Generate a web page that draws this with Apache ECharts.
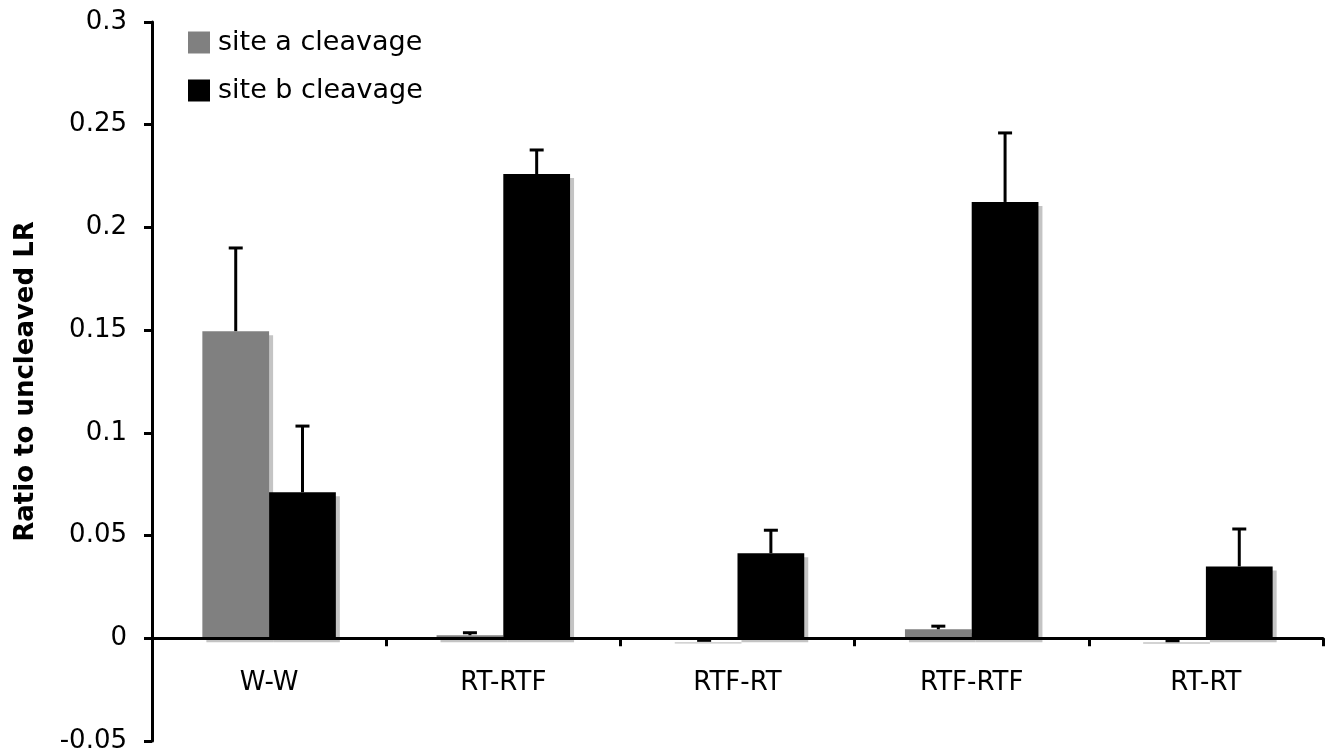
<!DOCTYPE html>
<html>
<head>
<meta charset="utf-8">
<script src="https://cdn.jsdelivr.net/npm/echarts@6/dist/echarts.min.js"></script>
<style>
html,body{margin:0;padding:0;background:#fff;}
#chart{width:1331px;height:755px;}
</style>
</head>
<body>
<div id="chart"></div>
<script>
const categories = ['W-W', 'RT-RTF', 'RTF-RT', 'RTF-RTF', 'RT-RT'];
const seriesNames = ['site a cleavage', 'site b cleavage'];
const siteA = [0.1495, 0.0015, -0.0006, 0.0044, -0.0007];
const siteAErr = [0.0405, 0.0012, 0.0004, 0.0015, 0.0005];
const siteB = [0.0711, 0.226, 0.0414, 0.2124, 0.035];
const siteBErr = [0.0322, 0.0117, 0.0112, 0.0336, 0.0182];
const yTicks = { min: -0.05, max: 0.3, interval: 0.05 };

const FONT = 'DejaVu Sans';
const chart = echarts.init(document.getElementById('chart'));

function errSeries(vals, errs, sign) {
  return {
    type: 'custom',
    z: 5,
    silent: true,
    data: vals.map((v, i) => [i, v, errs[i]]),
    renderItem: function (params, api) {
      const i = api.value(0), v = api.value(1), e = api.value(2);
      const end = v >= 0 ? v + e : v - e;
      const band = api.size([1, 0])[0];
      const off = sign * band * 0.57 / 4;
      const p0 = api.coord([i, v]);
      const p1 = api.coord([i, end]);
      const x = p0[0] + off;
      const style = { stroke: '#000', lineWidth: 3 };
      return {
        type: 'group',
        children: [
          { type: 'line', shape: { x1: x, y1: p0[1], x2: x, y2: p1[1] }, style: style },
          { type: 'line', shape: { x1: x - 7, y1: p1[1], x2: x + 7, y2: p1[1] }, style: style }
        ]
      };
    }
  };
}

const shadow = { shadowColor: '#c4c4c4', shadowBlur: 0, shadowOffsetX: 4, shadowOffsetY: 4 };

chart.setOption({
  animation: false,
  backgroundColor: '#fff',
  textStyle: { fontFamily: FONT },
  legend: {
    orient: 'vertical',
    left: 188,
    top: 29,
    padding: 0,
    itemWidth: 22,
    itemHeight: 22,
    itemGap: 21,
    icon: 'rect',
    data: seriesNames,
    textStyle: { fontFamily: FONT, fontSize: 27, lineHeight: 22, color: '#000', padding: [0, 0, 0, 3] }
  },
  grid: { left: 152, right: 8, top: 22, bottom: 14, containLabel: false, outerBoundsMode: 'none' },
  xAxis: {
    type: 'category',
    data: categories,
    z: 10,
    axisLine: { onZero: true, lineStyle: { color: '#000', width: 3 } },
    axisTick: { show: true, length: 8, inside: false, interval: 0, lineStyle: { color: '#000', width: 3 } },
    axisLabel: { show: true, interval: 0, hideOverlap: false, color: '#000', fontFamily: FONT, fontSize: 26, margin: -71 }
  },
  yAxis: {
    type: 'value',
    min: yTicks.min,
    max: yTicks.max,
    interval: yTicks.interval,
    name: 'Ratio to uncleaved LR',
    nameLocation: 'middle',
    nameGap: 113,
    nameRotate: 90,
    nameTextStyle: { color: '#000', fontFamily: FONT, fontSize: 26, fontWeight: 'bold' },
    splitLine: { show: false },
    axisLine: { show: true, onZero: false, lineStyle: { color: '#000', width: 3 } },
    axisTick: { show: true, length: 8, lineStyle: { color: '#000', width: 3 } },
    axisLabel: { color: '#000', fontFamily: FONT, fontSize: 26, margin: 25 }
  },
  series: [
    {
      name: seriesNames[0], type: 'bar', data: siteA,
      barGap: '0%', barCategoryGap: '43%',
      itemStyle: Object.assign({ color: '#808080' }, shadow)
    },
    {
      name: seriesNames[1], type: 'bar', data: siteB,
      barGap: '0%', barCategoryGap: '43%',
      itemStyle: Object.assign({ color: '#000000' }, shadow)
    },
    errSeries(siteA, siteAErr, -1),
    errSeries(siteB, siteBErr, 1)
  ]
});
</script>
</body>
</html>
